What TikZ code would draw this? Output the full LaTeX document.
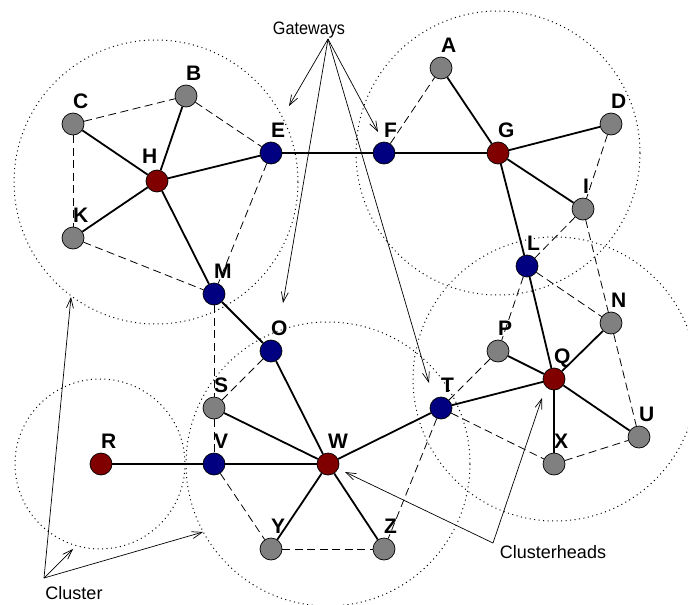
\documentclass[tikz,border=0pt]{standalone}
\usepackage{fontspec}
\setmainfont{Liberation Sans}
\newfontfamily\gwfont[FakeStretch=0.9]{Liberation Sans}
\usetikzlibrary{arrows.meta,calc}
\definecolor{chred}{RGB}{128,0,0}
\definecolor{gwblue}{RGB}{0,0,128}
\definecolor{ndgray}{RGB}{128,128,128}
\tikzset{
  pt/.style={circle,draw=black,line width=0.7pt,minimum size=22pt,inner sep=0pt},
  rednd/.style={pt,fill=chred},
  bluend/.style={pt,fill=gwblue},
  graynd/.style={pt,fill=ndgray},
  lab/.style={anchor=base west,inner sep=0pt,font=\fontsize{21}{21}\selectfont\bfseries},
  txt/.style={anchor=base,inner sep=0pt,font=\fontsize{18}{18}\selectfont},
  solidedge/.style={line width=1.8pt},
  dashedge/.style={line width=0.8pt,dash pattern=on 8pt off 4.5pt},
  clus/.style={line width=1pt,dash pattern=on 1pt off 3.5pt,black},
  ptr/.style={line width=0.7pt,-{Straight Barb[length=10pt,width=7pt]}}
}
\newcommand\mknode[4]{\node[#1] (#2) at (#3,#4) {}; \node[lab] (#2lab) at (#3,#4-16) {#2};}
\begin{document}
\begin{tikzpicture}[x=1pt,y=-1pt]
\useasboundingbox (0,0) rectangle (688,605);
% clusters
\draw[clus] (156,182) circle (142);
\draw[clus] (498,153) circle (142);
\draw[clus] (555,379) circle (142);
\draw[clus] (328,464) circle (142);
\draw[clus] (100,464) circle (85);
% nodes
\mknode{graynd}{A}{441}{68}
\mknode{graynd}{B}{186}{96}
\mknode{graynd}{C}{73}{124}
\mknode{graynd}{D}{611}{124}
\mknode{bluend}{E}{271}{153}
\mknode{bluend}{F}{384}{153}
\mknode{rednd}{G}{498}{153}
\node[rednd] (H) at (157,181) {};
\node[lab] (Hlab) at (142,163) {H};
\mknode{graynd}{I}{583}{209}
\mknode{graynd}{K}{73}{238}
\mknode{bluend}{L}{527}{266}
\mknode{bluend}{M}{214}{294}
\mknode{graynd}{N}{611}{323}
\mknode{bluend}{O}{271}{351}
\mknode{graynd}{P}{498}{351}
\mknode{rednd}{Q}{554}{379}
\mknode{rednd}{R}{101}{464}
\mknode{graynd}{S}{214}{408}
\mknode{bluend}{T}{441}{408}
\mknode{graynd}{U}{639}{437}
\mknode{bluend}{V}{214}{464}
\mknode{rednd}{W}{328}{464}
\mknode{graynd}{X}{554}{464}
\mknode{graynd}{Y}{271}{549}
\mknode{graynd}{Z}{384}{549}
% solid edges
\foreach \a/\b in {H/B,H/C,H/K,H/E,H/M,E/F,F/G,G/A,G/D,G/I,G/L,L/Q,Q/N,Q/P,Q/T,Q/X,Q/U,M/O,O/W,W/S,W/V,W/T,W/Y,W/Z,R/V}
  \draw[solidedge] (\a) -- (\b);
% dashed edges
\foreach \a/\b in {C/B,C/K,B/E,E/M,K/M,F/A,D/I,I/L,I/N,L/N,L/P,P/T,T/X,X/U,N/U,T/Z,M/S,S/O,S/V,V/Y,Y/Z}
  \draw[dashedge] (\a) -- (\b);
% annotation texts
\node[txt] (gwtxt) at (309,34) {\gwfont Gateways};
\node[txt] (cltxt) at (74,599) {Cluster};
\node[txt] (chtxt) at (553,558) {Clusterheads};
\coordinate (gw) at (328,39);
\coordinate (cl) at (44,578);
\coordinate (ch) at (493,543);
\coordinate (gwE) at (289,106);
\coordinate (gwF) at (378,132);
\coordinate (gwO) at (283,303);
\coordinate (gwT) at (429,383);
\coordinate (clH) at (71,297);
\coordinate (clR) at (73,549);
\coordinate (clW) at (203,532);
\coordinate (chW) at (345,472);
\coordinate (chQ) at (542,398);
\foreach \t in {gwE,gwF,gwO,gwT} \draw[ptr] (gw) -- (\t);
\foreach \t in {clH,clR,clW} \draw[ptr] (cl) -- (\t);
\foreach \t in {chW,chQ} \draw[ptr] (ch) -- (\t);
\end{tikzpicture}
\end{document}
